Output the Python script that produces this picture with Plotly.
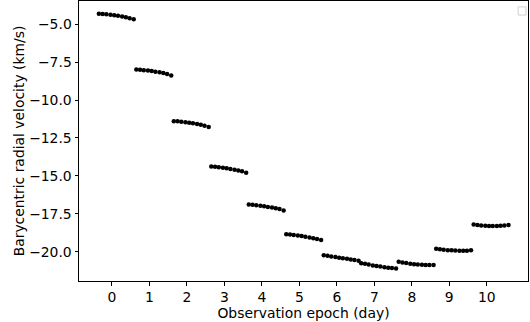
import plotly.graph_objects as go

# Observation epochs (day) and sub-day offsets of the exposures
epochs = [0, 1, 2, 3, 4, 5, 6, 7, 8, 9, 10]
offsets = [-0.35, -0.25, -0.15, -0.04, 0.06, 0.16, 0.27, 0.37, 0.47, 0.58]

# Barycentric radial velocities (km/s) per epoch
rv_day0 = [-4.31, -4.32, -4.35, -4.38, -4.41, -4.45, -4.49, -4.54, -4.60, -4.68]
rv_day1 = [-7.99, -8.00, -8.03, -8.06, -8.09, -8.13, -8.17, -8.22, -8.28, -8.38]
rv_day2 = [-11.39, -11.40, -11.43, -11.46, -11.49, -11.53, -11.58, -11.63, -11.69, -11.78]
rv_day3 = [-14.38, -14.40, -14.43, -14.46, -14.50, -14.54, -14.59, -14.64, -14.70, -14.79]
rv_day4 = [-16.89, -16.91, -16.94, -16.97, -17.01, -17.05, -17.09, -17.14, -17.19, -17.28]
rv_day5 = [-18.84, -18.86, -18.89, -18.93, -18.97, -19.01, -19.06, -19.11, -19.16, -19.22]
rv_day6 = [-20.24, -20.27, -20.31, -20.35, -20.39, -20.43, -20.47, -20.51, -20.55, -20.59]
rv_day7 = [-20.76, -20.80, -20.85, -20.90, -20.94, -20.98, -21.02, -21.05, -21.08, -21.10]
rv_day8 = [-20.66, -20.71, -20.75, -20.79, -20.82, -20.84, -20.86, -20.87, -20.88, -20.88]
rv_day9 = [-19.80, -19.84, -19.87, -19.90, -19.91, -19.92, -19.93, -19.93, -19.93, -19.91]
rv_day10 = [-18.20, -18.24, -18.27, -18.29, -18.30, -18.30, -18.30, -18.29, -18.27, -18.24]

rv_all = [rv_day0, rv_day1, rv_day2, rv_day3, rv_day4, rv_day5,
          rv_day6, rv_day7, rv_day8, rv_day9, rv_day10]

x_vals = []
y_vals = []
for d, rvs in zip(epochs, rv_all):
    for o, v in zip(offsets, rvs):
        x_vals.append(d + o)
        y_vals.append(v)

font_family = "DejaVu Sans"
fsize = 13.9

fig = go.Figure()
fig.add_trace(go.Scatter(
    x=x_vals, y=y_vals, mode="markers",
    marker=dict(color="black", size=4.5, line=dict(width=0)),
    showlegend=False,
))

fig.update_layout(
    width=530, height=322,
    margin=dict(l=79, r=2, t=1, b=41),
    plot_bgcolor="white", paper_bgcolor="white",
    font=dict(family=font_family, size=fsize, color="black"),
    xaxis=dict(
        range=[-0.88, 11.1], tickmode="array", tickvals=epochs,
        ticktext=[str(e) for e in epochs],
        showline=True, linecolor="black", linewidth=1, mirror=True,
        ticks="outside", ticklen=3.5, tickcolor="black", showgrid=False, zeroline=False,
        tickfont=dict(size=fsize),
        title=dict(text="Observation epoch (day)", standoff=0,
                   font=dict(size=fsize, family=font_family)),
    ),
    yaxis=dict(
        range=[-21.93, -3.47], tick0=-5, dtick=2.5, tickformat=".1f",
        showline=True, linecolor="black", linewidth=1, mirror=True,
        ticks="outside", ticklen=3.5, tickcolor="black", showgrid=False, zeroline=False,
        tickfont=dict(size=fsize),
        title=dict(text="Barycentric radial velocity (km/s)", standoff=1,
                   font=dict(size=fsize, family=font_family)),
    ),
    shapes=[dict(type="rect", xref="paper", yref="paper",
                 x0=0.978, x1=0.9955, y0=0.95, y1=0.979,
                 line=dict(color="#d0d0d0", width=1), fillcolor="white")],
)

fig.write_html("out.html")
